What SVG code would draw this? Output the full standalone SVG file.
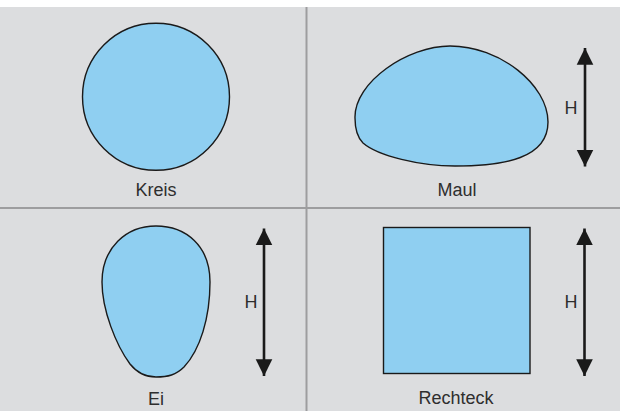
<svg xmlns="http://www.w3.org/2000/svg" width="620" height="411" viewBox="0 0 620 411">
<style>
.bg{fill:#dcdddf}
.div{stroke:#9d9d9f;stroke-width:2;fill:none}
.shape{fill:#8fcff1;stroke:#1a1a1a;stroke-width:1.4}
.lbl{font-family:"Liberation Sans",Arial,sans-serif;font-size:18px;fill:#2e2e2e;text-anchor:middle}
.arr{stroke:#1a1a1a;stroke-width:2.6;fill:none}
</style>
<defs>
<marker id="ah" viewBox="0 0 10 10" refX="10" refY="5" markerWidth="6.4" markerHeight="6.6" orient="auto-start-reverse" markerUnits="strokeWidth">
<path d="M0,0 L10,5 L0,10 Z" fill="#1a1a1a"/>
</marker>
</defs>
<rect x="0" y="0" width="620" height="411" fill="#ffffff"/>
<rect class="bg" x="0" y="7" width="620" height="404"/>
<g id="grid">
<line class="div" x1="306.5" y1="7" x2="306.5" y2="411"/>
<line class="div" x1="0" y1="208" x2="620" y2="208"/>
</g>
<g id="kreis">
<circle class="shape" cx="156" cy="96.7" r="73.5"/>
<text class="lbl" x="156" y="195.5">Kreis</text>
</g>
<g id="maul">
<path class="shape" d="M355 118 C354 82,408 46,450 46 C500 46,548 85,548 122 C548 158,505 166,455 166 C420 166,378 156,363 143 C357 137,355 128,355 118 Z"/>
<text class="lbl" x="457" y="196">Maul</text>
<text class="lbl" x="571" y="113.5">H</text>
</g>
<g id="ei">
<path class="shape" d="M156 226 C186 226,210 246,210 282 C210 318,200 350,184 367 C176 375,168 377,156 377 C146 377,138 374,130 364 C116 345,102 310,102 282 C102 248,126 226,156 226 Z"/>
<text class="lbl" x="156" y="405">Ei</text>
<text class="lbl" x="251" y="308">H</text>
</g>
<g id="rechteck">
<rect class="shape" x="383.5" y="227.5" width="146.5" height="146"/>
<text class="lbl" x="456" y="404">Rechteck</text>
<text class="lbl" x="571" y="308">H</text>
</g>
<g id="connectors">
<line class="arr" x1="585" y1="48" x2="585" y2="166.5" marker-start="url(#ah)" marker-end="url(#ah)"/>
<line class="arr" x1="264" y1="228.5" x2="264" y2="376" marker-start="url(#ah)" marker-end="url(#ah)"/>
<line class="arr" x1="584.5" y1="228.5" x2="584.5" y2="376" marker-start="url(#ah)" marker-end="url(#ah)"/>
</g>
</svg>
